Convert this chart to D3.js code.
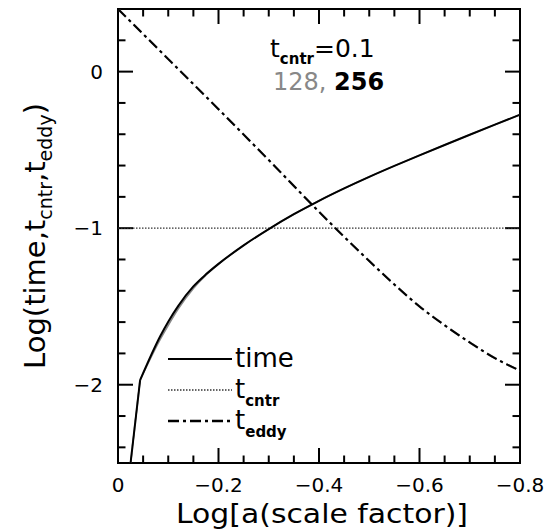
<!DOCTYPE html>
<html><head><meta charset="utf-8">
<script src="https://cdn.jsdelivr.net/npm/d3@7"></script>
<style>body{margin:0;background:#fff} svg{display:block} text{font-family:"DejaVu Sans",sans-serif;fill:#000}</style>
</head><body><svg id="c" width="551" height="532"></svg>
<script>
// ---- data ----
const logA_time  = [-0.025,-0.044,-0.084,-0.10,-0.12,-0.15,-0.175,-0.20,-0.25,-0.30,-0.35,-0.40,-0.45,-0.50,-0.55,-0.60,-0.65,-0.70,-0.75,-0.80];
const logT_256   = [-2.50,-1.97,-1.69,-1.597,-1.496,-1.372,-1.295,-1.228,-1.11,-1.006,-0.911,-0.825,-0.746,-0.672,-0.602,-0.5345,-0.4685,-0.4035,-0.339,-0.275];
const logT_128   = [-2.50,-1.97,-1.71,-1.62,-1.515,-1.385,-1.300,-1.230,-1.11,-1.006,-0.911,-0.825,-0.746,-0.672,-0.602,-0.5345,-0.4685,-0.4035,-0.339,-0.275];
const logA_eddy  = [0,-0.10,-0.20,-0.30,-0.40,-0.45,-0.50,-0.55,-0.60,-0.65,-0.70,-0.75,-0.80];
const logEddy_256= [0.40,0.08,-0.24,-0.565,-0.895,-1.055,-1.21,-1.36,-1.50,-1.62,-1.73,-1.83,-1.91];
const logEddy_128= [0.40,0.08,-0.24,-0.565,-0.895,-1.055,-1.21,-1.36,-1.50,-1.62,-1.73,-1.83,-1.91];
const logTcntr   = -1;
const xDomain = [0,-0.8];
const yDomain = [-2.5,0.4];
const xMajorTicks = [0,-0.2,-0.4,-0.6,-0.8];
const xMinorTicks = [-0.05,-0.1,-0.15,-0.25,-0.3,-0.35,-0.45,-0.5,-0.55,-0.65,-0.7,-0.75];
const xTickLabels = ["0","\u22120.2","\u22120.4","\u22120.6","\u22120.8"];
const yMajorTicks = [-2,-1,0];
const yMinorTicks = [-2.4,-2.2,-1.8,-1.6,-1.4,-1.2,-0.8,-0.6,-0.4,-0.2,0.2];
const yTickLabels = ["\u22122","\u22121","0"];

// ---- layout ----
const L=118,R=520,T=9,B=463;
const svg=d3.select("#c");
const x=d3.scaleLinear().domain(xDomain).range([L,R]);
const y=d3.scaleLinear().domain(yDomain).range([B,T]);

// frame
svg.append("rect").attr("x",L).attr("y",T).attr("width",R-L).attr("height",B-T)
  .attr("fill","none").attr("stroke","#000").attr("stroke-width",2);

// ticks (inward, on all four sides)
const tk=svg.append("g").attr("stroke","#000").attr("stroke-width",2);
[[xMajorTicks,15],[xMinorTicks,7.5]].forEach(([vals,len])=>{
  vals.forEach(v=>{
    tk.append("line").attr("x1",x(v)).attr("x2",x(v)).attr("y1",B).attr("y2",B-len);
    tk.append("line").attr("x1",x(v)).attr("x2",x(v)).attr("y1",T).attr("y2",T+len);
  });
});
[[yMajorTicks,15],[yMinorTicks,7.5]].forEach(([vals,len])=>{
  vals.forEach(v=>{
    tk.append("line").attr("y1",y(v)).attr("y2",y(v)).attr("x1",L).attr("x2",L+len);
    tk.append("line").attr("y1",y(v)).attr("y2",y(v)).attr("x1",R).attr("x2",R-len);
  });
});

// tick labels
svg.append("g").selectAll("text").data(xMajorTicks).join("text")
  .attr("x",d=>x(d)).attr("y",492).attr("text-anchor","middle").attr("font-size",20)
  .text((d,i)=>xTickLabels[i]);
svg.append("g").selectAll("text").data(yMajorTicks).join("text")
  .attr("x",103).attr("y",d=>y(d)+7).attr("text-anchor","end").attr("font-size",20)
  .text((d,i)=>yTickLabels[i]);

// axis titles
svg.append("text").attr("x",322).attr("y",523).attr("text-anchor","middle").attr("font-size",27)
  .attr("textLength",292).attr("lengthAdjust","spacingAndGlyphs")
  .text("Log[a(scale factor)]");
const yl=svg.append("text").attr("transform","translate(45,236) rotate(-90)").attr("text-anchor","middle").attr("font-size",29);
yl.append("tspan").text("Log(time,t");
yl.append("tspan").attr("font-size",19).attr("dy",7).text("cntr");
yl.append("tspan").attr("dy",-7).text(",t");
yl.append("tspan").attr("font-size",19).attr("dy",7).text("eddy");
yl.append("tspan").attr("dy",-7).text(")");

// clip
svg.append("clipPath").attr("id","clip").append("rect").attr("x",L).attr("y",T).attr("width",R-L).attr("height",B-T);
const plot=svg.append("g").attr("clip-path","url(#clip)");

const line=d3.line().x(d=>x(d[0])).y(d=>y(d[1])).curve(d3.curveMonotoneX);
const lineLin=d3.line().x(d=>x(d[0])).y(d=>y(d[1]));

function drawTime(vals,color,w){
  const pts=logA_time.map((a,i)=>[a,vals[i]]);
  // first (sparse) segment is a straight line, then a smooth curve
  plot.append("path").attr("d",lineLin(pts.slice(0,2)))
    .attr("fill","none").attr("stroke",color).attr("stroke-width",w);
  plot.append("path").attr("d",line(pts.slice(1)))
    .attr("fill","none").attr("stroke",color).attr("stroke-width",w);
}

// t_cntr dotted
plot.append("path").attr("d",lineLin([[xDomain[0],logTcntr],[xDomain[1],logTcntr]]))
  .attr("fill","none").attr("stroke","#333").attr("stroke-width",1.3).attr("stroke-dasharray","1.5,1.5");

// 128 (grey) curves underneath
drawTime(logT_128,"#888",1.6);
plot.append("path").attr("d",line(logA_eddy.map((a,i)=>[a,logEddy_128[i]])))
  .attr("fill","none").attr("stroke","#888").attr("stroke-width",2.2).attr("stroke-dasharray","11,4,3,4");
// 256 (black)
drawTime(logT_256,"#000",2);
plot.append("path").attr("d",line(logA_eddy.map((a,i)=>[a,logEddy_256[i]])))
  .attr("fill","none").attr("stroke","#000").attr("stroke-width",2).attr("stroke-dasharray","11,4,3,4");

// annotation
const a1=svg.append("text").attr("x",270).attr("y",57).attr("font-size",25);
a1.append("tspan").text("t");
a1.append("tspan").attr("font-size",15).attr("font-weight","bold").attr("dy",7).text("cntr");
a1.append("tspan").attr("dy",-7).text("=0.1");
const a2=svg.append("text").attr("x",273).attr("y",90).attr("font-size",24);
a2.append("tspan").attr("fill","#888").text("128, ");
a2.append("tspan").attr("font-weight","bold").attr("fill","#000").text("256");

// legend
const leg=[
  {y:359,dash:null,w:2,color:"#000",label:"time",sub:null},
  {y:390,dash:"1.5,1.5",w:1.3,color:"#333",label:"t",sub:"cntr"},
  {y:421,dash:"11,4,3,4",w:2.5,color:"#000",label:"t",sub:"eddy"}
];
leg.forEach(d=>{
  svg.append("line").attr("x1",168).attr("x2",232).attr("y1",d.y).attr("y2",d.y)
    .attr("stroke",d.color).attr("stroke-width",d.w).attr("stroke-dasharray",d.dash);
  const t=svg.append("text").attr("x",235).attr("y",d.y+8).attr("font-size",26);
  t.append("tspan").text(d.label);
  if(d.sub) t.append("tspan").attr("font-size",15).attr("font-weight","bold").attr("dy",8).text(d.sub);
});
</script></body></html>
